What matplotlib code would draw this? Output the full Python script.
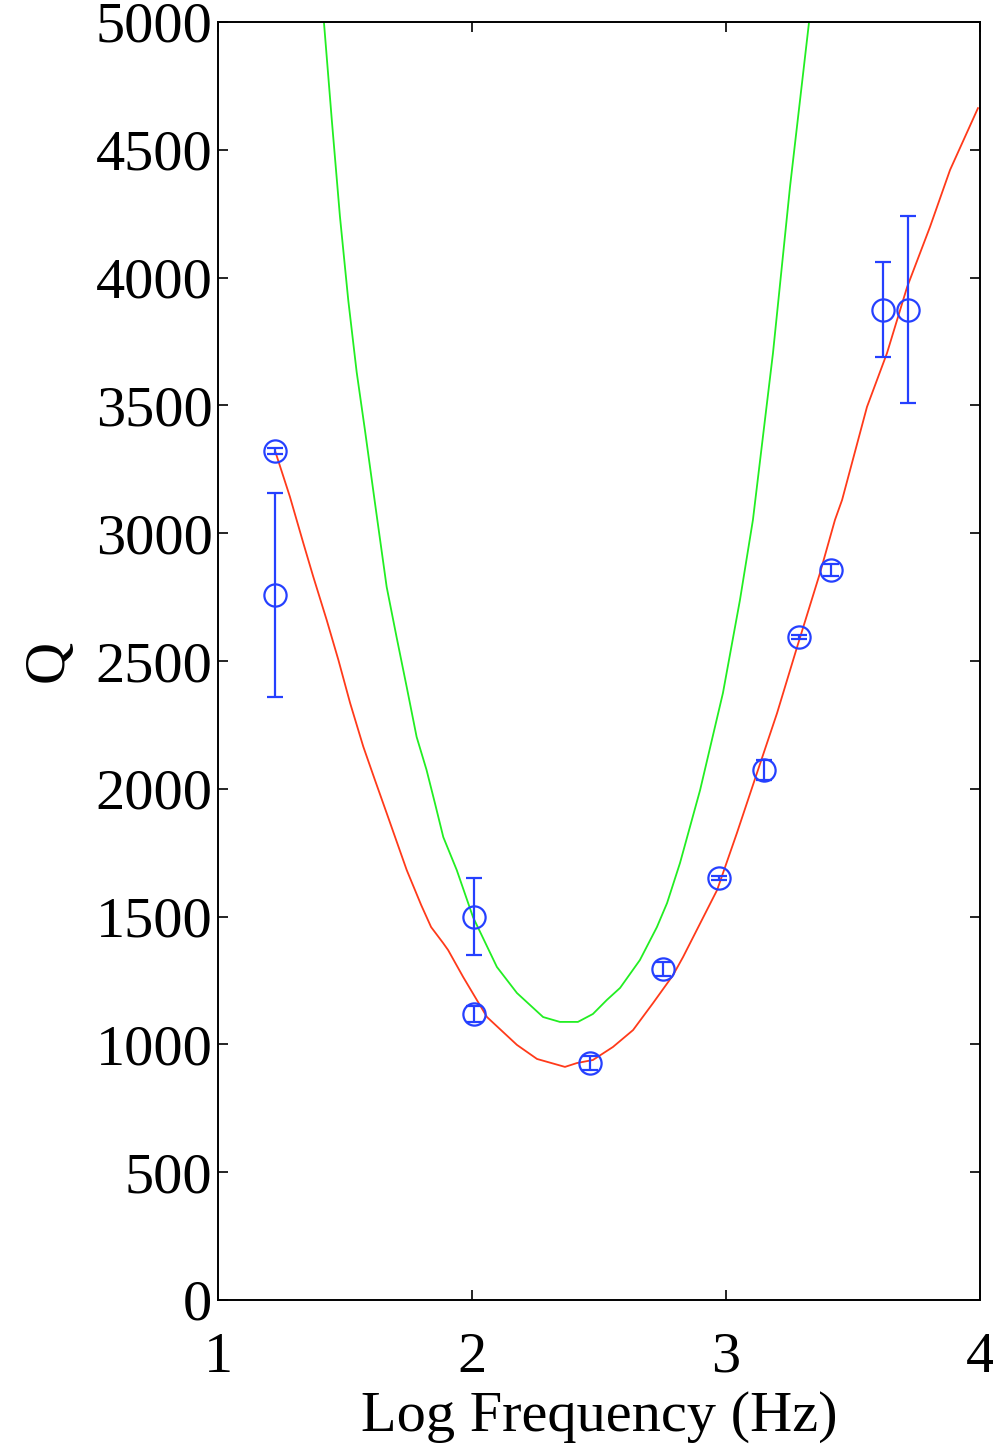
import matplotlib
matplotlib.use("Agg")
import matplotlib.pyplot as plt

# Measured data (log10 frequency, Q, error)
data_x = [1.224, 1.224, 2.008, 2.008, 2.465, 2.752, 2.972, 3.150, 3.287, 3.413, 3.618, 3.717]
data_q = [3322, 2758, 1500, 1119, 927, 1295, 1651, 2074, 2594, 2856, 3875, 3875]
data_err = [12, 398, 150, 31, 27, 27, 8, 40, 8, 25, 186, 366]

# Red model curve
red_x = [1.226, 1.283, 1.336, 1.375, 1.428, 1.474, 1.520, 1.572, 1.618, 1.664, 1.743,
         1.800, 1.839, 1.886, 1.906, 1.965, 2.059, 2.177, 2.256, 2.366, 2.413, 2.476,
         2.555, 2.634, 2.713, 2.791, 2.831, 2.965, 3.043, 3.122, 3.201, 3.280, 3.370,
         3.429, 3.457, 3.555, 3.634, 3.713, 3.803, 3.882, 3.992]
red_q = [3318, 3143, 2961, 2830, 2660, 2504, 2336, 2165, 2034, 1905, 1682,
         1545, 1459, 1397, 1369, 1264, 1107, 998, 943, 912, 927, 939,
         990, 1056, 1162, 1270, 1342, 1604, 1827, 2062, 2296, 2555, 2844,
         3052, 3130, 3494, 3705, 3963, 4198, 4421, 4663]

# Green model curve
green_x = [1.417, 1.448, 1.480, 1.513, 1.546, 1.579, 1.618, 1.664, 1.703, 1.743, 1.782,
           1.821, 1.854, 1.887, 1.940, 2.004, 2.098, 2.177, 2.280, 2.346, 2.417, 2.476,
           2.531, 2.583, 2.661, 2.728, 2.768, 2.819, 2.898, 2.988, 3.055, 3.106, 3.185,
           3.252, 3.327]
green_q = [5000, 4617, 4240, 3910, 3630, 3400, 3118, 2790, 2594, 2398, 2203,
           2074, 1944, 1811, 1682, 1498, 1303, 1201, 1107, 1088, 1088, 1119,
           1174, 1221, 1330, 1459, 1553, 1710, 1995, 2375, 2739, 3052, 3705,
           4355, 5000]

x_ticks = [1, 2, 3, 4]
y_ticks = [0, 500, 1000, 1500, 2000, 2500, 3000, 3500, 4000, 4500, 5000]

plt.rcParams['font.family'] = ['Liberation Serif', 'DejaVu Serif']

fig = plt.figure(figsize=(9.93, 14.46), dpi=100)
ax = fig.add_axes([218/993, 146/1446, 762/993, 1278/1446])

ax.plot(green_x, green_q, color='#22ee22', lw=1.3)
ax.plot(red_x, red_q, color='#ff3a1a', lw=1.3)
ax.errorbar(data_x, data_q, yerr=data_err, fmt='o', mfc='none', mec='#2540ff',
            color='#2540ff', ms=16, mew=1.6, elinewidth=1.6, capsize=6, capthick=1.6)

ax.set_xlim(1, 4)
ax.set_ylim(0, 5000)
ax.set_xticks(x_ticks)
ax.set_yticks(y_ticks)
ax.set_xticklabels([str(t) for t in x_ticks])
ax.set_yticklabels([str(t) for t in y_ticks])
ax.tick_params(direction='in', length=7, width=1.2, top=True, right=True,
               labelsize=42, colors='black')
ax.tick_params(axis='x', pad=23)
ax.tick_params(axis='y', pad=4)
for s in ax.spines.values():
    s.set_linewidth(1.4)

ax.set_xlabel('Log Frequency (Hz)', fontsize=42, labelpad=5)
ax.set_ylabel('Q', fontsize=42, labelpad=15)

fig.savefig('out.png', dpi=100)
